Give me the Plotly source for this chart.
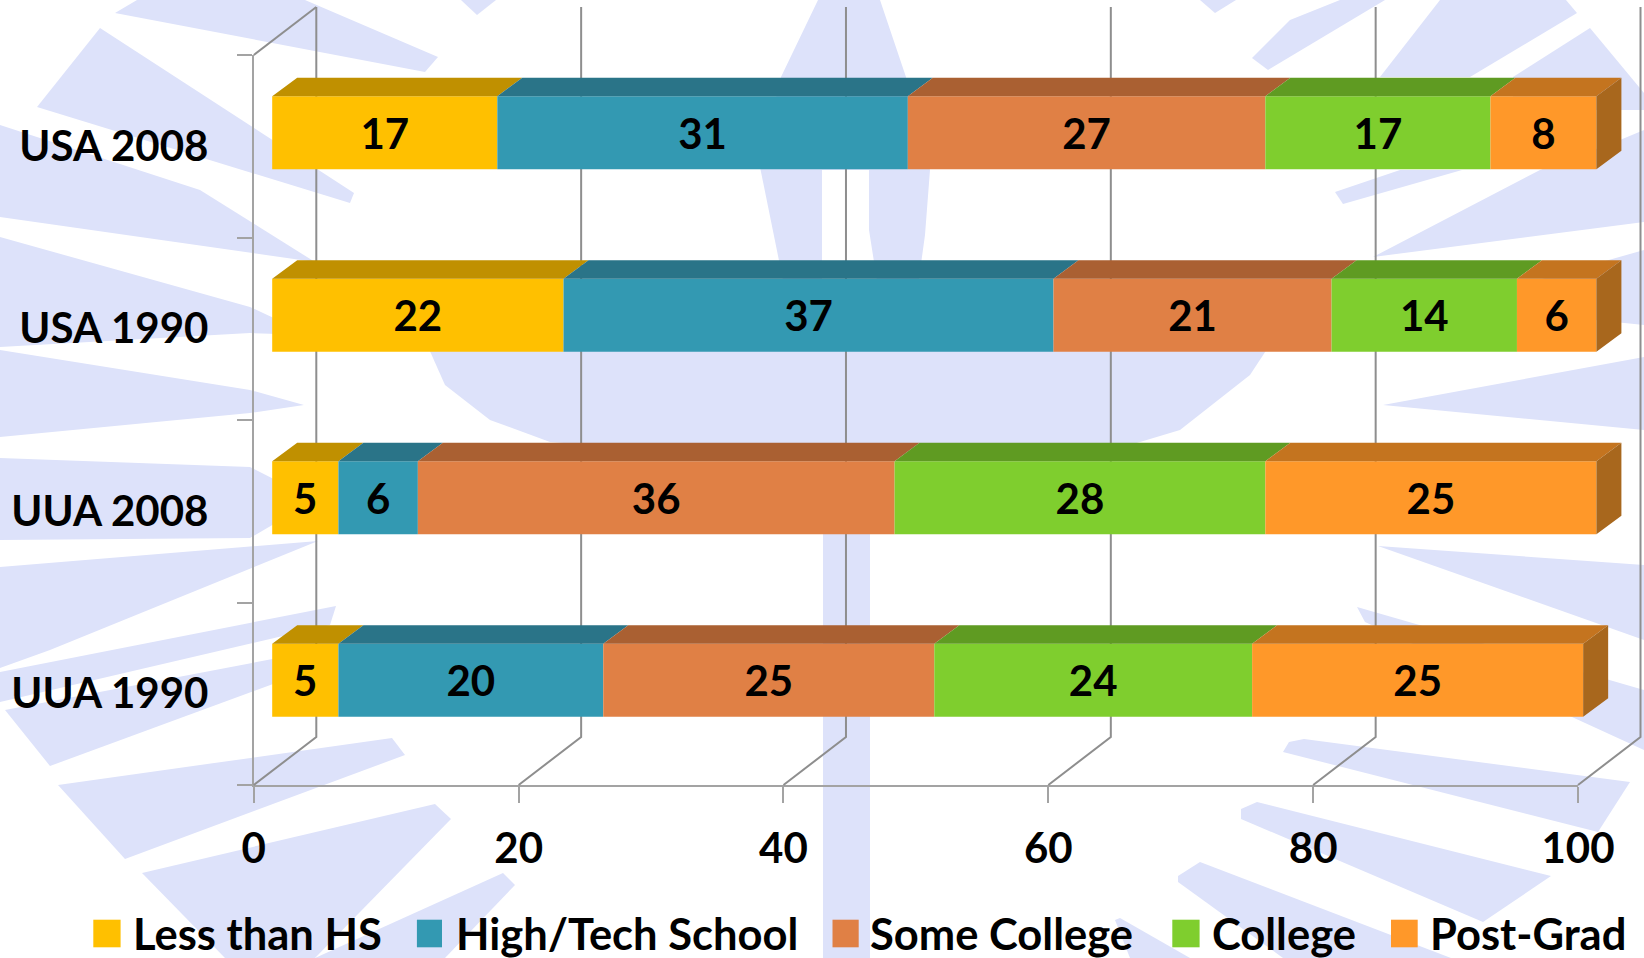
import plotly.graph_objects as go

# ---------- data ----------
CATEGORIES = ["UUA 1990", "UUA 2008", "USA 1990", "USA 2008"]
SERIES = ["Less than HS", "High/Tech School", "Some College", "College", "Post-Grad"]
LESS_THAN_HS = [5, 5, 22, 17]
HIGH_TECH = [20, 6, 37, 31]
SOME_COLLEGE = [25, 36, 21, 27]
COLLEGE = [24, 28, 14, 17]
POST_GRAD = [25, 25, 6, 8]
VALUES = [LESS_THAN_HS, HIGH_TECH, SOME_COLLEGE, COLLEGE, POST_GRAD]
X_TICKS = [0, 20, 40, 60, 80, 100]

# ---------- style ----------
FRONT = ["#FFC000", "#3399B2", "#E08045", "#7FCE2E", "#FF9829"]
TOP = ["#C09000", "#2A7488", "#AA6032", "#5F9B22", "#C4741F"]
SIDE = "#A8671D"
AXIS = "#A3A3A3"
GRID = "#8E8E8E"
WATER = "#DDE2FA"
FONT = "Lato"
W, H = 1644, 958
X0, X100 = 253.8, 1578.0      # front axis pixels
Y_FLOOR, Y_TOP = 785.0, 55.0
UX = (X100 - X0) / 100        # px per x-unit
UY = (Y_FLOOR - Y_TOP) / 4    # px per row
BAR_SHIFT_X, BAR_SHIFT_Y = 18.4, 13.5
BAR_DX, BAR_DY = 25 / UX, 18.6 / UY
WALL_DX, WALL_DY = 62.5 / UX, 48 / UY
BAR_W = 0.4

# background watermark outline, in page pixels
WATERMARK = [
    [(115,13),(137,0),(305,0),(438,57),(425,72)],
    [(100,28),(37,107),(350,203),(354,193)],
    [(0,125),(0,217),(315,262),(200,190)],
    [(0,237),(250,307),(310,335),(250,333),(0,347)],
    [(0,350),(250,390),(304,405),(250,413),(0,437)],
    [(0,458),(250,467),(315,500),(250,538),(0,540)],
    [(0,567),(318,541),(50,650),(0,668)],
    [(0,672),(0,702),(330,625),(336,606)],
    [(5,710),(50,766),(325,665),(320,650)],
    [(58,785),(125,859),(405,755),(392,738)],
    [(142,873),(225,958),(315,958),(451,819),(435,804)],
    [(315,958),(503,873),(515,885),(445,958)],
    [(461,0),(477,15),(496,0)],
    [(1200,0),(1215,13),(1236,0)],
    [(818,0),(880,0),(906,77),(930,170),(925,235),(916,300),(880,300),(869,230),(869,170),
     (822,170),(822,300),(787,300),(760,167),(781,77)],
    [(425,340),(1273,340),(1250,375),(1180,430),(1130,445),(800,460),(550,442),(490,420),(445,385)],
    [(1252,58),(1290,20),(1340,0),(1385,0),(1268,70)],
    [(1380,77),(1440,0),(1566,0),(1577,13),(1470,77)],
    [(1590,28),(1513,77),(1513,110),(1644,110),(1644,93)],
    [(1335,192),(1343,204),(1462,170),(1400,170)],
    [(1373,257),(1540,170),(1620,140),(1644,130),(1644,222)],
    [(1644,250),(1644,325),(1450,305)],
    [(1383,405),(1644,357),(1644,430)],
    [(1378,546),(1644,565),(1644,640)],
    [(1357,607),(1644,690),(1644,750),(1365,622)],
    [(1289,742),(1304,739),(1630,782),(1598,832),(1283,752)],
    [(1241,809),(1257,802),(1551,876),(1483,922),(1241,819)],
    [(1178,876),(1200,862),(1451,958),(1283,958),(1178,882)],
    [(1115,920),(1120,918),(1190,958),(1130,958)],
    [(823,530),(870,530),(870,958),(823,958)],
]
# legend layout, page pixels: swatch left, swatch right, text left
LEGEND_POS = [(93.3,120.6,135.3),(416.9,442,457.8),(832.5,858.7,871.8),(1172.3,1199.6,1214.2),(1391,1417.7,1431.9)]
LEGEND_Y = (919.7, 947.3, 933.0)

fig = go.Figure()
rows = list(range(len(CATEGORIES)))

# anchor trace for the category axis
fig.add_trace(go.Scatter(x=[0]*4, y=CATEGORIES, mode="markers", marker=dict(opacity=0, size=1),
                         showlegend=False, hoverinfo="skip", xaxis="x", yaxis="y"))

# walls
wx, wy = [], []
low = -0.5
high = 3.5
for t in X_TICKS:
    wx += [t, t + WALL_DX, t + WALL_DX, None]
    wy += [low, low + WALL_DY, high + WALL_DY, None]
wx += [X_TICKS[0], X_TICKS[0] + WALL_DX]
wy += [high, high + WALL_DY]
fig.add_trace(go.Scatter(x=wx, y=wy, mode="lines", line=dict(color=GRID, width=2), showlegend=False,
                         hoverinfo="skip", xaxis="x2", yaxis="y2"))

# bars
cum = [0] * 4
for name, vals, front, top in zip(SERIES, VALUES, FRONT, TOP):
    px, py = [], []
    for r in rows:
        a, b = cum[r], cum[r] + vals[r]
        t = r + BAR_W / 2
        px += [a, a + BAR_DX, b + BAR_DX, b, a, None]
        py += [t, t + BAR_DY, t + BAR_DY, t, t, None]
    fig.add_trace(go.Scatter(x=px, y=py, mode="lines", fill="toself", fillcolor=top, line=dict(width=0),
                             showlegend=False, hoverinfo="skip", xaxis="x3", yaxis="y3"))
    fig.add_trace(go.Bar(name=name, x=vals, y=rows, base=cum, orientation="h", width=BAR_W,
                         marker=dict(color=front, line=dict(width=0)),
                         text=[str(v) for v in vals], textposition="inside", insidetextanchor="middle",
                         textangle=0, constraintext="none",
                         textfont=dict(family=FONT, size=42, color="#000000", weight=700),
                         customdata=CATEGORIES, hovertemplate="%{customdata}: %{x}<extra>" + name + "</extra>",
                         showlegend=False, xaxis="x3", yaxis="y3"))
    cum = [c + v for c, v in zip(cum, vals)]

# right-hand end faces
sx, sy = [], []
for r in rows:
    e = cum[r]
    t, b = r + BAR_W / 2, r - BAR_W / 2
    sx += [e, e + BAR_DX, e + BAR_DX, e, e, None]
    sy += [t, t + BAR_DY, b + BAR_DY, b, t, None]
fig.add_trace(go.Scatter(x=sx, y=sy, mode="lines", fill="toself", fillcolor=SIDE, line=dict(width=0),
                         showlegend=False, hoverinfo="skip", xaxis="x3", yaxis="y3"))

shapes = []
for poly in WATERMARK:
    path = "M" + "L".join(f"{x/W:.5f},{1-y/H:.5f}" for x, y in poly) + "Z"
    shapes.append(dict(type="path", path=path, xref="paper", yref="paper", fillcolor=WATER,
                       line=dict(width=0), layer="below"))
annotations = []
for name, color, (s0, s1, tx) in zip(SERIES, FRONT, LEGEND_POS):
    shapes.append(dict(type="rect", xref="paper", yref="paper", x0=s0/W, x1=s1/W,
                       y0=1-LEGEND_Y[1]/H, y1=1-LEGEND_Y[0]/H, fillcolor=color, line=dict(width=0), layer="above"))
    annotations.append(dict(text=name, xref="paper", yref="paper", x=tx/W, y=1-LEGEND_Y[2]/H,
                            xanchor="left", yanchor="middle", showarrow=False, xshift=-4,
                            font=dict(family=FONT, size=43.5, color="#000000", weight=700)))

def x_range(origin):
    return [(0 - origin) / UX, (W - origin) / UX]

def y_range(shift):
    c0 = Y_FLOOR - UY / 2 - shift      # pixel centre of row 0
    return [(c0 - H) / UY, c0 / UY]

hidden = dict(visible=False, domain=[0, 1], fixedrange=True)
fig.update_layout(
    width=W, height=H, margin=dict(l=0, r=0, t=0, b=0, autoexpand=False), showlegend=False,
    paper_bgcolor="white", plot_bgcolor="rgba(0,0,0,0)", barmode="overlay",
    shapes=shapes, annotations=annotations,
    xaxis=dict(domain=[X0 / W, X100 / W], range=[0, 100], tickvals=X_TICKS, anchor="y",
               showgrid=False, zeroline=False, showline=True, linecolor=AXIS, linewidth=2,
               ticks="outside", ticklen=16, tickwidth=2, tickcolor=AXIS, ticklabelstandoff=10,
               tickfont=dict(family=FONT, size=42, color="#000000", weight=700), fixedrange=True),
    yaxis=dict(domain=[1 - Y_FLOOR / H, 1 - Y_TOP / H], type="category", categoryorder="array",
               categoryarray=CATEGORIES, range=[-0.5, 3.5], anchor="x", tickson="boundaries",
               showgrid=False, zeroline=False, showline=True, linecolor=AXIS, linewidth=2,
               ticks="outside", ticklen=15, tickwidth=2, tickcolor=AXIS, ticklabelstandoff=35,
               tickfont=dict(family=FONT, size=42, color="#000000", weight=700), fixedrange=True),
    xaxis2=dict(hidden, range=x_range(X0), anchor="y2"),
    yaxis2=dict(hidden, range=y_range(0), anchor="x2"),
    xaxis3=dict(hidden, range=x_range(X0 + BAR_SHIFT_X), anchor="y3"),
    yaxis3=dict(hidden, range=y_range(BAR_SHIFT_Y), anchor="x3"),
)
fig.write_html("out.html", config={"displayModeBar": False},
               post_script="document.body.style.margin='0';")
